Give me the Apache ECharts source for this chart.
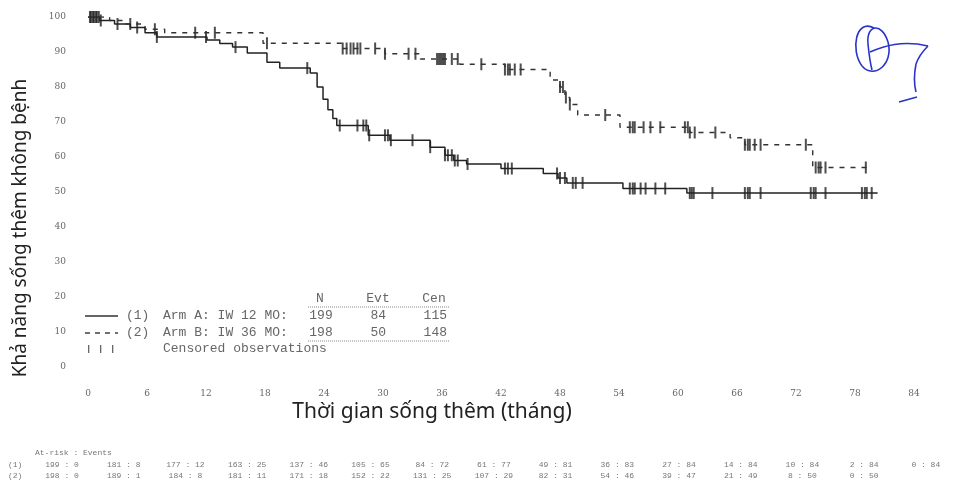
<!DOCTYPE html>
<html>
<head>
<meta charset="utf-8">
<script src="https://cdn.jsdelivr.net/npm/echarts@6/dist/echarts.min.js"></script>
<style>
  html, body { margin: 0; padding: 0; background: #fff; }
  #chart { width: 953px; height: 488px; }
</style>
</head>
<body>
<div id="chart"></div>
<script>
// tick labels
var xTicks = [0, 6, 12, 18, 24, 30, 36, 42, 48, 54, 60, 66, 72, 78, 84];
var yTicks = [0, 10, 20, 30, 40, 50, 60, 70, 80, 90, 100];

// Arm A (solid) step curve: time (months) -> survival (%)
var armATime = [0, 1.2, 2.7, 4.3, 5.8, 7, 12.1, 13.4, 14.7, 16.2, 18.2, 19.5, 22.6, 23.3, 23.9, 24.4, 24.9, 25.3, 28.5, 30.7, 34.8, 36.3, 37.2, 38.5, 42, 46.3, 47.8, 48.7, 54.4, 60.9, 80.3];
var armASurv = [100, 99, 98, 97, 95.5, 94.3, 93.4, 92.4, 91.4, 89.7, 87.1, 85.4, 84, 80, 76.5, 73.5, 71, 69, 66.2, 64.8, 62.8, 60.5, 59, 58, 56.7, 55.3, 54, 52.6, 51, 49.7, 49.7];
var armACens = [0.3, 0.6, 0.9, 1.3, 3, 5, 7, 12, 15, 22.3, 25.6, 27.4, 28, 28.3, 28.6, 30.2, 30.5, 30.8, 33, 34.8, 36.3, 36.6, 37, 37.3, 37.6, 38.6, 42.4, 42.7, 43.1, 47.7, 48, 48.5, 49.3, 49.6, 50.3, 55.1, 55.4, 55.6, 56.2, 56.7, 57.7, 58.7, 61.2, 61.4, 61.6, 63.5, 66.8, 67.1, 67.3, 68.4, 73.5, 73.8, 74, 75, 78.7, 79, 79.2, 79.7];

// Arm B (dashed) step curve
var armBTime = [0, 2.2, 3.8, 5.8, 7.8, 17.8, 25.8, 30.2, 33.8, 37.8, 42.4, 47, 48, 48.5, 49, 49.8, 54.1, 61.2, 65.3, 66.8, 73.7, 79.5];
var armBSurv = [100, 99, 98, 96.5, 95.5, 92.5, 91, 89.5, 88, 86.5, 85, 82, 80, 77, 75, 72, 68.5, 67, 65.5, 63.5, 57, 57];
var armBCens = [0.2, 0.5, 0.8, 1.1, 4.3, 6.8, 10.9, 12.9, 18.2, 25.9, 26.3, 26.7, 27, 27.4, 27.7, 29.2, 30.2, 32.6, 33.3, 35.5, 35.7, 35.9, 36.1, 36.3, 37, 37.6, 40, 42.4, 42.7, 42.9, 43.4, 44, 48, 48.3, 48.6, 49, 52.6, 55.1, 55.4, 55.6, 56.5, 57.2, 58.2, 60.7, 61, 61.2, 61.7, 63.8, 66.8, 67.1, 67.3, 67.8, 68.4, 73, 74, 74.3, 74.5, 75, 79.1];

// legend table
var legendRows = ['(1)', '(2)'];
var legendArms = ['Arm A: IW 12 MO:', 'Arm B: IW 36 MO:'];
var legendN = [199, 198];
var legendEvt = [84, 50];
var legendCen = [115, 148];

// at-risk table
var atRiskA = [199, 181, 177, 163, 137, 105, 84, 61, 49, 36, 27, 14, 10, 2, 0];
var eventsA = [0, 8, 12, 25, 46, 65, 72, 77, 81, 83, 84, 84, 84, 84, 84];
var atRiskB = [198, 189, 184, 181, 171, 152, 131, 107, 82, 54, 39, 21, 8, 0];
var eventsB = [0, 1, 8, 11, 18, 22, 25, 29, 31, 46, 47, 49, 50, 50];

function stepData(t, s) {
  return t.map(function (v, i) { return [v, s[i]]; });
}
function censData(c, t, s) {
  return c.map(function (x) {
    var y = s[0];
    for (var i = 0; i < t.length; i++) { if (t[i] <= x) y = s[i]; }
    return [x, y];
  });
}

var chart = echarts.init(document.getElementById('chart'));
var tickFont = { color: '#666', fontFamily: 'DejaVu Serif', fontSize: 9 };
var monoFont = 'Liberation Mono';
var txtColor = '#666';
var legFont = '13px ' + monoFont;

var graphics = [];
// axis titles
graphics.push({
  type: 'text', x: 432, y: 412,
  style: { text: 'Thời gian sống thêm (tháng)', fill: '#222', font: '21px "Noto Sans"', textAlign: 'center', textVerticalAlign: 'middle' }
});
graphics.push({
  type: 'text', x: 21, y: 228, rotation: Math.PI / 2,
  style: { text: 'Khả năng sống thêm không bệnh', fill: '#222', font: '19px "Noto Sans"', textAlign: 'center', textVerticalAlign: 'middle' }
});
// legend box
graphics.push({ type: 'line', shape: { x1: 85, y1: 316, x2: 118, y2: 316 }, style: { stroke: '#333', lineWidth: 1.4 } });
graphics.push({ type: 'line', shape: { x1: 85, y1: 333, x2: 118, y2: 333 }, style: { stroke: '#333', lineWidth: 1.4, lineDash: [5, 5] } });
[88, 100, 112].forEach(function (x) {
  graphics.push({ type: 'rect', shape: { x: x, y: 345, width: 1.3, height: 8 }, style: { fill: txtColor } });
});
graphics.push({ type: 'text', x: 163, y: 349, style: { text: 'Censored observations', fill: txtColor, font: legFont, textVerticalAlign: 'middle' } });
[['N', 320], ['Evt', 378], ['Cen', 434]].forEach(function (h) {
  graphics.push({ type: 'text', x: h[1], y: 299, style: { text: h[0], fill: txtColor, font: legFont, textAlign: 'center', textVerticalAlign: 'middle' } });
});
graphics.push({ type: 'line', shape: { x1: 308, y1: 307, x2: 450, y2: 307 }, style: { stroke: '#888', lineWidth: 1, lineDash: [1, 1] } });
graphics.push({ type: 'line', shape: { x1: 308, y1: 341, x2: 450, y2: 341 }, style: { stroke: '#888', lineWidth: 1, lineDash: [1, 1] } });
legendRows.forEach(function (r, i) {
  var y = 316 + i * 17;
  graphics.push({ type: 'text', x: 126, y: y, style: { text: r, fill: txtColor, font: legFont, textVerticalAlign: 'middle' } });
  graphics.push({ type: 'text', x: 163, y: y, style: { text: legendArms[i], fill: txtColor, font: legFont, textVerticalAlign: 'middle' } });
  graphics.push({ type: 'text', x: 321, y: y, style: { text: String(legendN[i]), fill: txtColor, font: legFont, textAlign: 'center', textVerticalAlign: 'middle' } });
  graphics.push({ type: 'text', x: 386, y: y, style: { text: String(legendEvt[i]), fill: txtColor, font: legFont, textAlign: 'right', textVerticalAlign: 'middle' } });
  graphics.push({ type: 'text', x: 447, y: y, style: { text: String(legendCen[i]), fill: txtColor, font: legFont, textAlign: 'right', textVerticalAlign: 'middle' } });
});
// at-risk table
var smallFont = '8px ' + monoFont;
graphics.push({ type: 'text', x: 35, y: 453, style: { text: 'At-risk : Events', fill: '#777', font: smallFont, textVerticalAlign: 'middle' } });
graphics.push({ type: 'text', x: 8, y: 465, style: { text: '(1)', fill: '#777', font: smallFont, textVerticalAlign: 'middle' } });
graphics.push({ type: 'text', x: 8, y: 476, style: { text: '(2)', fill: '#777', font: smallFont, textVerticalAlign: 'middle' } });
atRiskA.forEach(function (n, i) {
  graphics.push({ type: 'text', x: 62 + i * 61.7, y: 465, style: { text: n + ' : ' + eventsA[i], fill: '#777', font: smallFont, textAlign: 'center', textVerticalAlign: 'middle' } });
});
atRiskB.forEach(function (n, i) {
  graphics.push({ type: 'text', x: 62 + i * 61.7, y: 476, style: { text: n + ' : ' + eventsB[i], fill: '#777', font: smallFont, textAlign: 'center', textVerticalAlign: 'middle' } });
});
// handwritten mark (bezier strokes)
var pen = { stroke: '#2a33c8', fill: null, lineWidth: 1.6 };
[
  [874, 28, 856, 18, 850, 50, 862, 66],
  [862, 66, 874, 80, 894, 64, 888, 42],
  [888, 42, 882, 22, 866, 24, 868, 44],
  [868, 44, 869, 54, 870, 62, 872, 70],
  [870, 52, 884, 46, 902, 40, 928, 46],
  [928, 46, 922, 52, 918, 58, 916, 64],
  [916, 64, 914, 74, 914, 84, 916, 92]
].forEach(function (b) {
  graphics.push({ type: 'bezierCurve', shape: { x1: b[0], y1: b[1], cpx1: b[2], cpy1: b[3], cpx2: b[4], cpy2: b[5], x2: b[6], y2: b[7] }, style: pen });
});
graphics.push({ type: 'line', shape: { x1: 899, y1: 102, x2: 917, y2: 97 }, style: pen });

chart.setOption({
  animation: false,
  backgroundColor: '#fff',
  grid: { left: 88, right: 39, top: 17, bottom: 121, containLabel: false },
  xAxis: {
    type: 'value', min: 0, max: 84, interval: 6,
    axisLine: { show: false }, axisTick: { show: false }, splitLine: { show: false },
    axisLabel: Object.assign({ margin: 22 }, tickFont)
  },
  yAxis: {
    type: 'value', min: 0, max: 100, interval: 10,
    axisLine: { show: false }, axisTick: { show: false }, splitLine: { show: false },
    axisLabel: Object.assign({ margin: 22 }, tickFont)
  },
  series: [
    {
      name: 'Arm A', type: 'line', step: 'end', showSymbol: false,
      data: stepData(armATime, armASurv),
      lineStyle: { color: '#222', width: 1.5 }
    },
    {
      name: 'Arm B', type: 'line', step: 'end', showSymbol: false,
      data: stepData(armBTime, armBSurv),
      lineStyle: { color: '#333', width: 1.4, type: [5, 6] }
    },
    {
      type: 'scatter', symbol: 'rect', symbolSize: [2, 12],
      data: censData(armACens, armATime, armASurv),
      itemStyle: { color: '#222' }
    },
    {
      type: 'scatter', symbol: 'rect', symbolSize: [2, 12],
      data: censData(armBCens, armBTime, armBSurv),
      itemStyle: { color: '#222' }
    }
  ],
  graphic: graphics
});
</script>
</body>
</html>
